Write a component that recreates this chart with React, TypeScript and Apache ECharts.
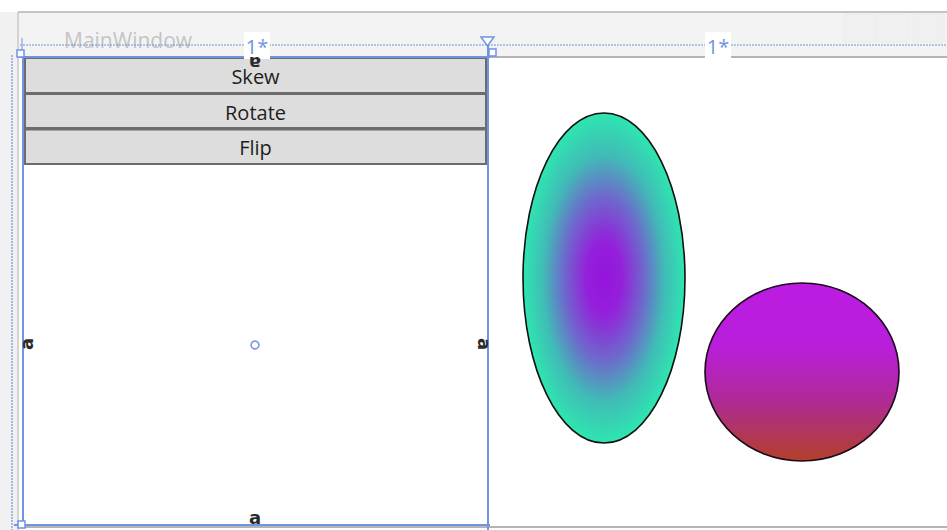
import React, { useEffect, useRef } from "react";
import * as echarts from "echarts";

const windowTitle = ["MainWindow"];
const buttonLabels = ["Skew", "Rotate", "Flip"];
const columnLabels = ["1*", "1*"];
const radialStops = [
  [0, "#9414dc"],
  [0.22, "#9420da"],
  [0.5, "#6d6acc"],
  [0.75, "#40bcb6"],
  [1, "#2ee6b0"],
];
const linearStops = [
  [0, "#bc1ce2"],
  [0.35, "#b91edc"],
  [0.65, "#b02a98"],
  [1, "#b2402a"],
];

export default function App() {
  const ref = useRef<HTMLDivElement>(null);
  useEffect(() => {
    const chart = echarts.init(ref.current!, null, { renderer: "svg" });
    const blue = "#6f94e0";
    const els: any[] = [];
    els.push({ type: "rect", shape: { x: 0, y: 12, width: 18, height: 520 }, style: { fill: "#f1f1f1" } });
    els.push({ type: "rect", shape: { x: 18, y: 12, width: 929, height: 45 }, style: { fill: "#f3f3f3" } });
    els.push({ type: "line", shape: { x1: 18, y1: 12, x2: 947, y2: 12 }, style: { stroke: "#c4c4c4", lineWidth: 2 } });
    els.push({ type: "line", shape: { x1: 18, y1: 12, x2: 18, y2: 530 }, style: { stroke: "#c8c8c8", lineWidth: 1.5 } });
    [843, 877, 912].forEach((x) =>
      els.push({ type: "rect", shape: { x, y: 14, width: 32, height: 28 }, style: { fill: "#f0f0f0", stroke: "#ececec", lineWidth: 1 } })
    );
    els.push({
      type: "text", x: 64, y: 40,
      style: { text: windowTitle[0], fill: "#c4c4c4", font: "21px 'Open Sans', sans-serif", textVerticalAlign: "middle" },
    });
    els.push({ type: "rect", shape: { x: 24, y: 57, width: 923, height: 468 }, style: { fill: "#ffffff" } });
    els.push({ type: "line", shape: { x1: 490, y1: 57, x2: 947, y2: 57 }, style: { stroke: "#b4b4b4", lineWidth: 2 } });
    els.push({ type: "line", shape: { x1: 20, y1: 527, x2: 947, y2: 527 }, style: { stroke: "#b4b4b4", lineWidth: 2 } });
    els.push({ type: "line", shape: { x1: 20, y1: 45, x2: 947, y2: 45 }, style: { stroke: blue, lineWidth: 1.2, lineDash: [2, 1] } });
    els.push({ type: "line", shape: { x1: 12, y1: 55, x2: 12, y2: 530 }, style: { stroke: blue, lineWidth: 1.2, lineDash: [2, 1] } });
    els.push({ type: "line", shape: { x1: 22, y1: 38, x2: 22, y2: 57 }, style: { stroke: blue, lineWidth: 1 } });

    const bx = 25, bw = 461;
    const tops = [58, 94, 129.5];
    const hs = [35, 34, 34.5];
    buttonLabels.forEach((label, i) => {
      els.push({
        type: "rect", shape: { x: bx, y: tops[i], width: bw, height: hs[i] },
        style: { fill: "#dddddd", stroke: "#6c6c6c", lineWidth: 2 },
      });
      els.push({
        type: "text", x: bx + bw / 2, y: tops[i] + hs[i] / 2 + 1,
        style: { text: label, fill: "#1e1e1e", font: "20px 'Open Sans', sans-serif", textAlign: "center", textVerticalAlign: "middle" },
      });
    });

    els.push({ type: "line", shape: { x1: 20, y1: 57, x2: 490, y2: 57 }, style: { stroke: blue, lineWidth: 2 } });
    els.push({ type: "line", shape: { x1: 23, y1: 57, x2: 23, y2: 525 }, style: { stroke: blue, lineWidth: 2 } });
    els.push({ type: "line", shape: { x1: 488, y1: 40, x2: 488, y2: 530 }, style: { stroke: blue, lineWidth: 2 } });
    els.push({ type: "line", shape: { x1: 14, y1: 525, x2: 490, y2: 525 }, style: { stroke: blue, lineWidth: 2 } });
    [[17, 50], [252, 48], [489, 49]].forEach(([x, y]) =>
      els.push({ type: "rect", shape: { x, y, width: 7, height: 7 }, style: { fill: "#ffffff", stroke: blue, lineWidth: 1.5 } })
    );
    els.push({ type: "rect", shape: { x: 18, y: 521, width: 7, height: 7 }, style: { fill: "#ffffff", stroke: blue, lineWidth: 1.5 } });
    els.push({ type: "polygon", shape: { points: [[481, 37], [494, 37], [487.5, 46]] }, style: { fill: "#ffffff", stroke: blue, lineWidth: 1.5 } });
    els.push({ type: "circle", shape: { cx: 255, cy: 345, r: 4 }, style: { fill: "#ffffff", stroke: blue, lineWidth: 1.5 } });

    [257, 718].forEach((x, i) => {
      els.push({ type: "rect", shape: { x: x - 13, y: 32, width: 26, height: 27 }, style: { fill: "#ffffff" } });
      els.push({
        type: "text", x, y: 46,
        style: { text: columnLabels[i], fill: blue, font: "20px 'Open Sans', sans-serif", textAlign: "center", textVerticalAlign: "middle" },
      });
    });
    const glyph = (x: number, y: number, rot: number) =>
      els.push({
        type: "text", x, y, rotation: rot,
        style: { text: "a", fill: "#2a2a2a", font: "bold 18px 'DejaVu Sans', sans-serif", textAlign: "center", textVerticalAlign: "middle" },
      });
    glyph(255, 63, Math.PI);
    glyph(255, 517, 0);
    glyph(26, 344, Math.PI / 2);
    glyph(484, 344, -Math.PI / 2);

    els.push({
      type: "ellipse", shape: { cx: 604, cy: 278, rx: 81, ry: 165 },
      style: {
        fill: new echarts.graphic.RadialGradient(0.5, 0.5, 0.5, radialStops.map(([o, c]) => ({ offset: o as number, color: c as string }))),
        stroke: "#111111", lineWidth: 1.6,
      },
    });
    els.push({
      type: "ellipse", shape: { cx: 802, cy: 372, rx: 97, ry: 89 },
      style: {
        fill: new echarts.graphic.LinearGradient(0, 0, 0, 1, linearStops.map(([o, c]) => ({ offset: o as number, color: c as string }))),
        stroke: "#1a0a1a", lineWidth: 1.6,
      },
    });

    chart.setOption({ animation: false, graphic: { elements: els } });
    return () => chart.dispose();
  }, []);
  return <div ref={ref} style={{ position: "fixed", left: 0, top: 0, width: 947, height: 530, background: "#ffffff" }} />;
}
